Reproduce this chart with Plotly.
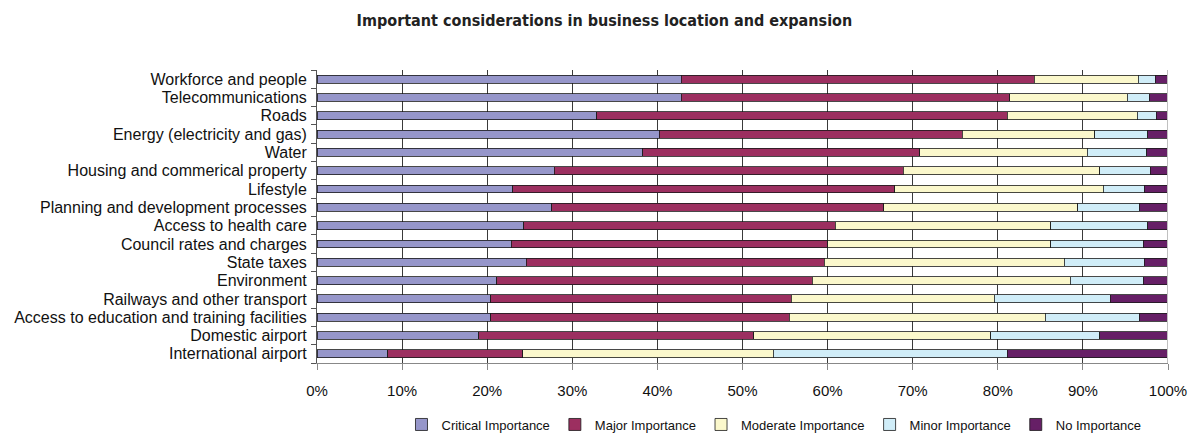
import plotly.graph_objects as go

categories = [
    "Workforce and people", "Telecommunications", "Roads",
    "Energy (electricity and gas)", "Water", "Housing and commerical property",
    "Lifestyle", "Planning and development processes", "Access to health care",
    "Council rates and charges", "State taxes", "Environment",
    "Railways and other transport", "Access to education and training facilities",
    "Domestic airport", "International airport",
]

critical = [42.8, 42.8, 32.9, 40.2, 38.3, 27.9, 23.0, 27.6, 24.3, 22.8, 24.6, 21.1, 20.4, 20.4, 19.0, 8.3]
major    = [41.5, 38.6, 48.2, 35.6, 32.5, 41.0, 44.9, 39.0, 36.6, 37.2, 35.0, 37.1, 35.3, 35.1, 32.3, 15.9]
moderate = [12.2, 13.8, 15.3, 15.6, 19.7, 23.1, 24.5, 22.8, 25.3, 26.2, 28.2, 30.3, 23.9, 30.1, 27.9, 29.4]
minor    = [2.0, 2.6, 2.2, 6.2, 7.0, 5.9, 4.8, 7.2, 11.4, 10.9, 9.4, 8.6, 13.6, 11.0, 12.8, 27.5]
none_    = [1.5, 2.2, 1.4, 2.4, 2.5, 2.1, 2.8, 3.4, 2.4, 2.9, 2.8, 2.9, 6.8, 3.4, 8.0, 18.9]

series_names = ["Critical Importance", "Major Importance", "Moderate Importance",
                "Minor Importance", "No Importance"]
series_values = [critical, major, moderate, minor, none_]
colors = ["#9696CA", "#9C2F60", "#FBF8CC", "#D0EDF8", "#661F66"]

x_ticks = [0, 10, 20, 30, 40, 50, 60, 70, 80, 90, 100]
x_tick_labels = ["0%", "10%", "20%", "30%", "40%", "50%", "60%", "70%", "80%", "90%", "100%"]

fig = go.Figure()
for name, vals, col in zip(series_names, series_values, colors):
    fig.add_trace(go.Bar(
        y=categories, x=vals, name=name, orientation="h",
        marker=dict(color=col, line=dict(color="#1a1a1a", width=0.8)),
    ))

fig.update_layout(
    barmode="stack",
    bargap=0.57,
    width=1200, height=443,
    margin=dict(l=309, r=40, t=62, b=81),
    paper_bgcolor="white", plot_bgcolor="white",
    title=dict(
        text="<b>Important considerations in business location and expansion</b>",
        x=0.497, xanchor="center", y=0.973, yanchor="middle",
        font=dict(family="DejaVu Sans Condensed, sans-serif", size=16, color="#222222"),
    ),
    font=dict(family="Liberation Sans, Arial, sans-serif", size=16, color="#111111"),
    legend=dict(
        orientation="h", x=0.537, xanchor="center", y=-0.21, yanchor="middle",
        font=dict(size=13, color="#111111"), traceorder="normal",
        itemwidth=30, tracegroupgap=0,
    ),
    showlegend=True,
)

fig.update_xaxes(
    range=[0, 100], tickvals=x_ticks, ticktext=x_tick_labels,
    showgrid=True, gridcolor="#3a3a3a", gridwidth=1,
    showline=True, linecolor="#888888", linewidth=1,
    ticks="outside", ticklen=6, tickcolor="#888888",
    zeroline=False, mirror=False, automargin=False,
    tickfont=dict(size=15), ticklabelstandoff=8,
)
fig.update_yaxes(
    autorange="reversed", categoryorder="array", categoryarray=categories,
    tickmode="array", tickvals=categories, ticktext=categories,
    showline=True, linecolor="#555555", linewidth=1,
    ticks="outside", ticklen=5, tickcolor="#555555", tickson="boundaries",
    showgrid=False, zeroline=False, ticklabelstandoff=6, automargin=False,
    tickfont=dict(size=16),
)
# right-side light frame line
fig.add_shape(type="line", xref="x", yref="paper", x0=100, x1=100, y0=0, y1=1,
              line=dict(color="#c0c0c0", width=2), layer="above")

fig.write_html("out.html")
